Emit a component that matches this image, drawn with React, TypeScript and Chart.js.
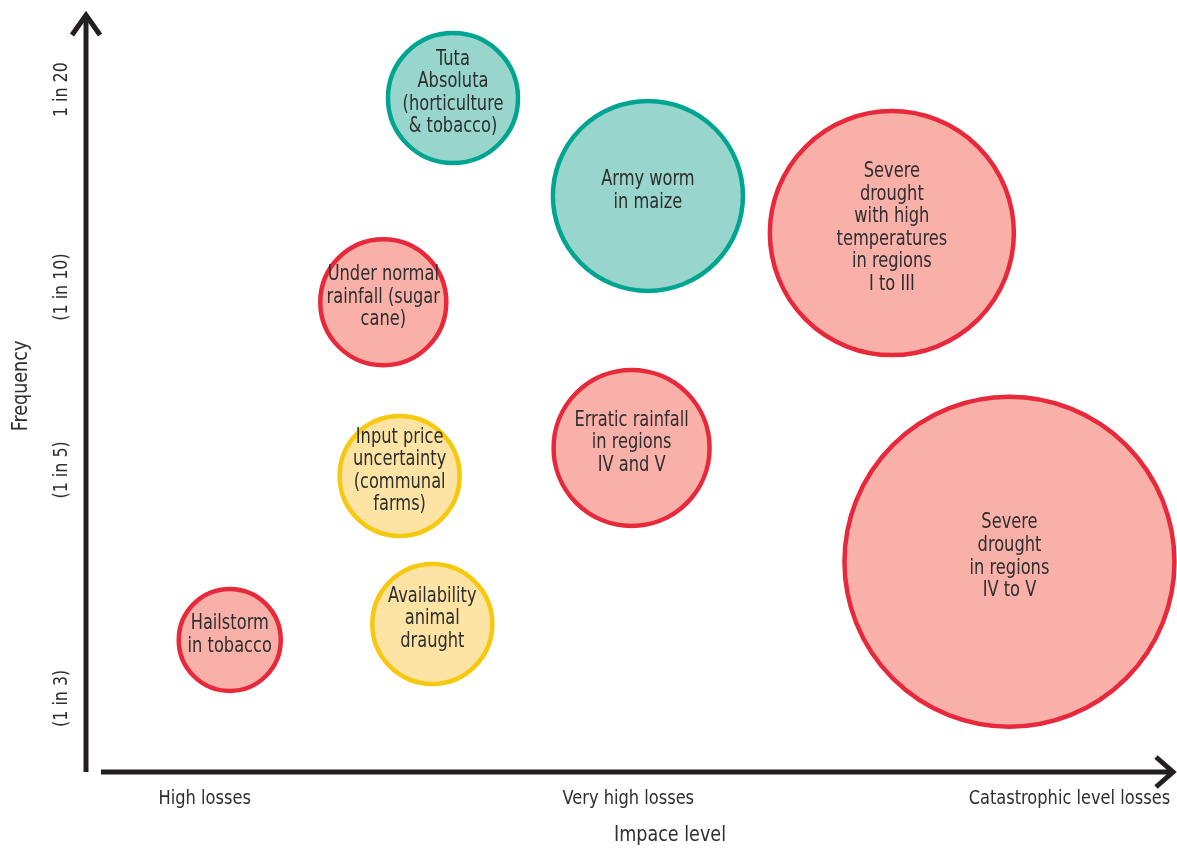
import React, { useEffect, useRef } from "react";
import { Chart, registerables } from "chart.js";

Chart.register(...registerables);

// ---- Data ----
const riskLabels: string[][] = [
  ["Tuta", "Absoluta", "(horticulture", "& tobacco)"],
  ["Army worm", "in maize"],
  ["Severe", "drought", "with high", "temperatures", "in regions", "I to III"],
  ["Under normal", "rainfall (sugar", "cane)"],
  ["Input price", "uncertainty", "(communal", "farms)"],
  ["Erratic rainfall", "in regions", "IV and V"],
  ["Severe", "drought", "in regions", "IV to V"],
  ["Hailstorm", "in tobacco"],
  ["Availability", "animal", "draught"],
];
const impactValues: number[] = [33.7, 51.6, 74.0, 27.3, 28.8, 50.1, 84.8, 13.2, 31.8];
const frequencyValues: number[] = [88.8, 75.9, 71.0, 61.9, 39.0, 42.7, 27.7, 17.4, 19.5];
const bubbleSizes: number[] = [65, 95, 122, 63, 60, 78, 165, 51, 60];
const riskGroups: string[] = ["pest", "pest", "weather", "weather", "market", "weather", "weather", "weather", "market"];

const xTickValues: number[] = [10.9, 49.8, 90.3];
const xTickLabels: string[] = ["High losses", "Very high losses", "Catastrophic level losses"];
const yTickValues: number[] = [89.9, 63.9, 39.8, 9.7];
const yTickLabels: string[] = ["1 in 20", "(1 in 10)", "(1 in 5)", "(1 in 3)"];
const xTitle = "Impace level";
const yTitle = "Frequency";

const groupFill: Record<string, string> = {
  pest: "#98d6cd",
  weather: "#f8b0a9",
  market: "#fde4a4",
};
const groupBorder: Record<string, string> = {
  pest: "#00a592",
  weather: "#e8283b",
  market: "#f8c80e",
};

const FONT = "'DejaVu Sans Condensed', 'Liberation Sans Narrow', sans-serif";
const TEXT = "#2e2e2e";

function drawText(ctx: CanvasRenderingContext2D, s: string, x: number, y: number, sx: number, rot = 0) {
  ctx.save();
  ctx.translate(x, y);
  if (rot) ctx.rotate(rot);
  ctx.scale(sx, 1);
  ctx.fillText(s, 0, 0);
  ctx.restore();
}

const overlayPlugin = {
  id: "overlay",
  afterDatasetsDraw(chart: any) {
    const ctx = chart.ctx as CanvasRenderingContext2D;
    const xs = chart.scales.x;
    const ys = chart.scales.y;
    const area = chart.chartArea;
    ctx.save();

    // bubble labels
    const meta = chart.getDatasetMeta(0);
    ctx.fillStyle = TEXT;
    ctx.font = `21px ${FONT}`;
    ctx.textAlign = "center";
    ctx.textBaseline = "middle";
    const lh = 22.6;
    meta.data.forEach((el: any, i: number) => {
      const lines = riskLabels[i];
      const cy = el.y - 5;
      const start = cy - ((lines.length - 1) * lh) / 2;
      lines.forEach((ln, j) => drawText(ctx, ln, el.x, start + j * lh, 0.86));
    });

    // axes
    ctx.strokeStyle = "#231f20";
    ctx.lineWidth = 5;
    ctx.lineCap = "butt";
    ctx.lineJoin = "miter";
    const ax = area.left;
    const ay = area.bottom;
    ctx.beginPath();
    ctx.moveTo(ax, ay);
    ctx.lineTo(ax, area.top + 3);
    ctx.stroke();
    ctx.beginPath();
    ctx.moveTo(ax - 14, area.top + 22);
    ctx.lineTo(ax, area.top + 2);
    ctx.lineTo(ax + 14, area.top + 22);
    ctx.stroke();
    ctx.beginPath();
    ctx.moveTo(ax + 15, ay);
    ctx.lineTo(area.right - 3, ay);
    ctx.stroke();
    ctx.beginPath();
    ctx.moveTo(area.right - 19, ay - 15);
    ctx.lineTo(area.right - 2, ay);
    ctx.lineTo(area.right - 19, ay + 15);
    ctx.stroke();

    // tick labels
    ctx.fillStyle = TEXT;
    ctx.font = `19px ${FONT}`;
    ctx.textAlign = "center";
    ctx.textBaseline = "middle";
    xTickValues.forEach((v, i) => {
      drawText(ctx, xTickLabels[i], xs.getPixelForValue(v), 799, 0.95);
    });
    yTickValues.forEach((v, i) => {
      drawText(ctx, yTickLabels[i], 62, ys.getPixelForValue(v), 0.93, -Math.PI / 2);
    });

    // titles
    ctx.font = `21px ${FONT}`;
    drawText(ctx, xTitle, 670, 836, 0.93);
    drawText(ctx, yTitle, 22, 386, 0.93, -Math.PI / 2);

    ctx.restore();
  },
};

export default function App() {
  const canvasRef = useRef<HTMLCanvasElement | null>(null);

  useEffect(() => {
    const canvas = canvasRef.current;
    if (!canvas) return;
    const chart = new Chart(canvas, {
      type: "bubble",
      data: {
        datasets: [
          {
            label: "Risks",
            data: impactValues.map((x, i) => ({ x, y: frequencyValues[i], r: bubbleSizes[i] })),
            backgroundColor: riskGroups.map((g) => groupFill[g]),
            borderColor: riskGroups.map((g) => groupBorder[g]),
            borderWidth: 4.5,
            hoverBorderWidth: 4.5,
            clip: false as any,
          },
        ],
      },
      options: {
        responsive: false,
        maintainAspectRatio: false,
        animation: false,
        events: [],
        layout: { autoPadding: false, padding: { left: 86, right: 2, top: 13, bottom: 76 } },
        plugins: {
          legend: { display: false },
          tooltip: { enabled: false },
        },
        scales: {
          x: { type: "linear", min: 0, max: 100, display: false },
          y: { type: "linear", min: 0, max: 100, display: false },
        },
      },
      plugins: [overlayPlugin],
    });
    return () => chart.destroy();
  }, []);

  return (
    <div style={{ position: "absolute", left: 0, top: 0, width: 1177, height: 848, background: "#fff" }}>
      <canvas ref={canvasRef} width={1177} height={848} style={{ display: "block" }} />
    </div>
  );
}
